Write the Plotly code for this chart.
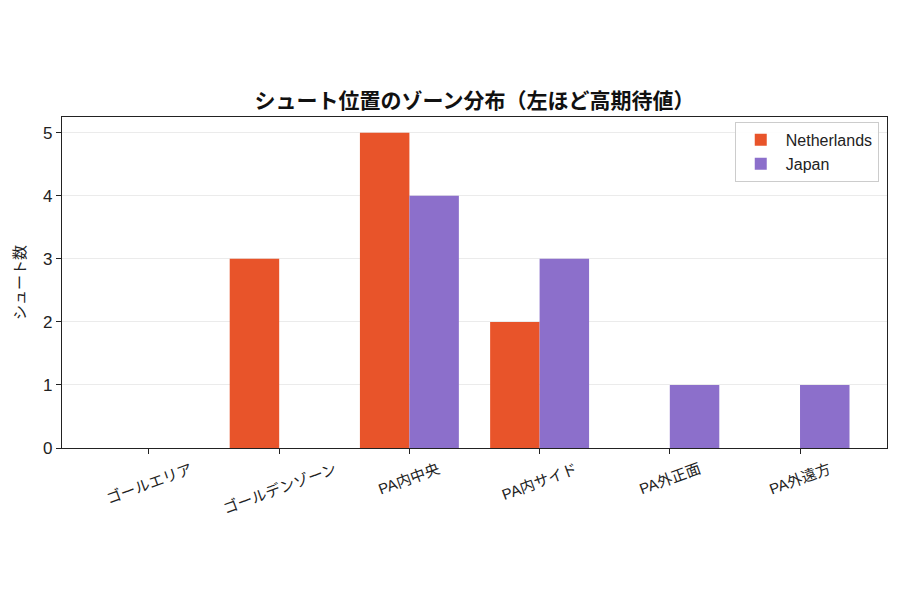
import plotly.graph_objects as go

categories = ["ゴールエリア", "ゴールデンゾーン", "PA内中央", "PA内サイド", "PA外正面", "PA外遠方"]
netherlands = [0, 3, 5, 2, 0, 0]
japan = [0, 0, 4, 3, 1, 1]
series_names = ["Netherlands", "Japan"]
yticks = [0, 1, 2, 3, 4, 5]

FONT = "Liberation Sans, Noto Sans CJK JP"
JFONT = "Noto Sans CJK JP"
c_ned = "#E8542A"
c_jpn = "#8C6FCB"

W, H = 892, 592
L, R, T, B = 54, 13, 109, 152

fig = go.Figure()
fig.add_trace(go.Bar(x=list(range(len(categories))), y=netherlands, name=series_names[0],
                     marker=dict(color=c_ned, line=dict(width=0))))
fig.add_trace(go.Bar(x=list(range(len(categories))), y=japan, name=series_names[1],
                     marker=dict(color=c_jpn, line=dict(width=0))))

for i, lab in enumerate(categories):
    fig.add_annotation(x=i, y=-0.028, xref="x", yref="paper", text=lab, showarrow=False,
                       textangle=-20, xanchor="center", yanchor="top",
                       font=dict(family=FONT, size=15, color="#222"))

fig.update_layout(
    width=W, height=H,
    paper_bgcolor="white", plot_bgcolor="white",
    margin=dict(l=L, r=R, t=T, b=B, autoexpand=False),
    barmode="group", bargap=0.24, bargroupgap=0,
    font=dict(family=FONT, size=14, color="#222"),
    title=dict(text="<b>シュート位置のゾーン分布（左ほど高期待値）</b>", x=0.5, xref="paper",
               xanchor="center", y=1 - 93 / H, yanchor="middle",
               font=dict(family=JFONT, size=21, color="#111")),
    legend=dict(x=0.990, xanchor="right", y=0.985, yanchor="top",
                bordercolor="#CCCCCC", borderwidth=1, bgcolor="rgba(255,255,255,0.9)",
                font=dict(family=FONT, size=16, color="#222"), itemwidth=40,
                tracegroupgap=4),
    xaxis=dict(range=[-0.668, 5.668], tickmode="array", tickvals=list(range(len(categories))),
               ticktext=[""] * len(categories), ticks="outside", ticklen=5, tickcolor="#222",
               showline=True, linecolor="#222", linewidth=1.2, mirror=True, showgrid=False,
               zeroline=False, automargin=False),
    yaxis=dict(range=[0, 5.25], tickmode="array", tickvals=yticks, ticks="outside", ticklen=5,
               tickcolor="#222", showline=True, linecolor="#222", linewidth=1.2, mirror=True,
               showgrid=True, gridcolor="#EBEBEB", gridwidth=1, zeroline=False, automargin=False,
               tickfont=dict(size=17, family=FONT),
               title=dict(text="シュート数", standoff=16, font=dict(family=JFONT, size=15))),
)

fig.write_html("out.html")
